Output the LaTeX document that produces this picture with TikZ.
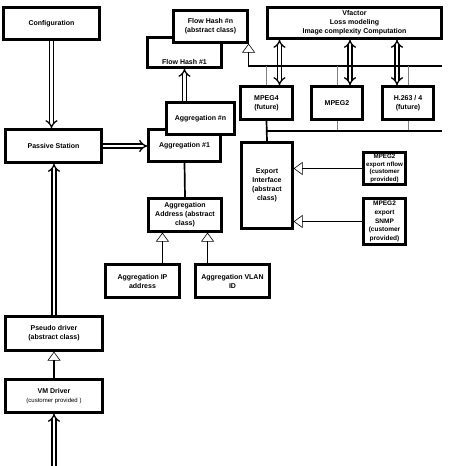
\documentclass[tikz,border=0pt]{standalone}
\usepackage{fontspec}
\setmainfont{Liberation Sans}
\usetikzlibrary{arrows.meta, positioning, calc}

\begin{document}
\begin{tikzpicture}[
    x=1pt, y=-1pt,
    font=\bfseries\fontsize{7}{9}\selectfont,
    box/.style={rectangle, draw, line width=2.2pt, fill=white, align=center, inner sep=1pt, minimum width=#1},
    box/.default=75pt,
    dbl/.style={double, double distance=2.8pt, line width=1.3pt, -{Implies[scale=1.2]}},
    dblboth/.style={dbl, {Implies[scale=1.2]}-{Implies[scale=1.2]}},
    inherit/.style={line width=1.7pt, -{Triangle[open, length=9pt, width=13pt, line width=0.6pt]}},
    link/.style={line width=1.7pt},
    tap/.style={gray, line width=0.6pt},
]
    \useasboundingbox (0,0) rectangle (450,466);

    % left column
    \node[box=96pt, minimum height=32pt] (config) at (51.5,23.5) {Configuration};
    \node[box=96pt, minimum height=33pt] (passive) at (53.5,146) {Passive Station};
    \node[box=97pt, minimum height=34pt] (pseudo) at (54,333.5) {Pseudo driver\\(abstract class)};
    \node[box=97pt, minimum height=33pt] (vmdrv) at (54,396) {VM Driver\\{\mdseries\fontsize{6}{8}\selectfont (customer provided )}};

    % flow hash / aggregation
    \node[box=74pt, minimum height=30pt] (flowone) at (184.5,52.5) {\rule{0pt}{24pt}Flow Hash \#1};
    \node[box=74pt, minimum height=32pt] (flown) at (210.5,26.5) {Flow Hash \#n\\(abstract class)};
    \node[box=72pt, minimum height=32pt] (aggone) at (184.5,145.5) {Aggregation \#1};
    \node[box=68pt, minimum height=32pt] (aggn) at (200.5,118.5) {Aggregation \#n};
    \node[box=73pt, minimum height=33pt] (aggaddr) at (185,215) {Aggregation\\Address (abstract\\class)};
    \node[box=74pt, minimum height=33pt] (aggip) at (142.5,281) {Aggregation IP\\address};
    \node[box=74pt, minimum height=33pt] (aggvlan) at (232.5,281) {Aggregation VLAN\\ID};

    % codecs and export
    \node[box=174pt, minimum height=31pt] (vfactor) at (354.5,23) {Vfactor\\Loss modeling\\Image complexity Computation};
    \node[box=52pt, minimum height=33pt] (mpegfour) at (266.5,103) {MPEG4\\(future)};
    \node[box=51pt, minimum height=33pt] (mpegtwo) at (337,103) {MPEG2};
    \node[box=51pt, minimum height=33pt] (hdot) at (408,103) {H.263 / 4\\(future)};
    \node[box=51pt, minimum height=86pt] (export) at (267,185.5) {Export\\Interface\\(abstract\\class)};
    \node[box=42pt, minimum height=32pt, font=\bfseries\fontsize{6.2}{7.8}\selectfont] (nflow) at (384.5,168.5) {MPEG2\\export nflow\\(customer\\provided)};
    \node[box=42pt, minimum height=46pt, font=\bfseries\fontsize{6.5}{8.7}\selectfont] (snmp) at (384.5,221.5) {MPEG2\\export\\SNMP\\(customer\\provided)};

    % double arrows
    \draw[dbl] (config.south) -- (config.south |- passive.north);
    \draw[dbl] (pseudo.north) -- (pseudo.north |- passive.south);
    \draw[dbl] (passive.east) -- (passive.east -| aggone.west);
    \coordinate (feed) at (54,466);
    \draw[dbl] (feed) -- (vmdrv.south);
    \draw[dbl] (aggn.north -| flowone.south) -- (flowone.south);
    \draw[dblboth] ([xshift=13pt]mpegfour.north) -- ([xshift=13pt]mpegfour.north |- vfactor.south);
    \draw[dblboth] ([xshift=13pt]mpegtwo.north) -- ([xshift=13pt]mpegtwo.north |- vfactor.south);
    \draw[dblboth] ([xshift=-11pt]hdot.north) -- ([xshift=-11pt]hdot.north |- vfactor.south);

    % plain links and inheritance
    \draw[inherit] (vmdrv.north) -- (pseudo.south);
    \draw[link] (aggone.south) -- (aggaddr.north);
    \coordinate (ipjoin) at ($(aggaddr.south west)!0.2!(aggaddr.south east)$);
    \coordinate (vlanjoin) at ($(aggaddr.south west)!0.8!(aggaddr.south east)$);
    \draw[inherit] (ipjoin |- aggip.north) -- (ipjoin);
    \draw[inherit] (vlanjoin |- aggvlan.north) -- (vlanjoin);
    \draw[inherit] (nflow.west) -- (nflow.west -| export.east);
    \draw[inherit] (snmp.west) -- (snmp.west -| export.east);

    % buses
    \coordinate (topbus) at (442,66);
    \coordinate (lowbus) at (442,131);
    \draw[inherit] (topbus) -- (topbus -| flown.south east) -- (flown.south east);
    \foreach \m in {mpegfour, mpegtwo, hdot}
        \draw[tap] (\m.north) -- (\m.north |- topbus);
    \foreach \m in {mpegtwo, hdot}
        \draw[tap] (\m.south) -- (\m.south |- lowbus);
    \draw[link] (mpegfour.south) -- (export.north);
    \draw[link] (mpegfour.south |- lowbus) -- (lowbus);
\end{tikzpicture}
\end{document}
